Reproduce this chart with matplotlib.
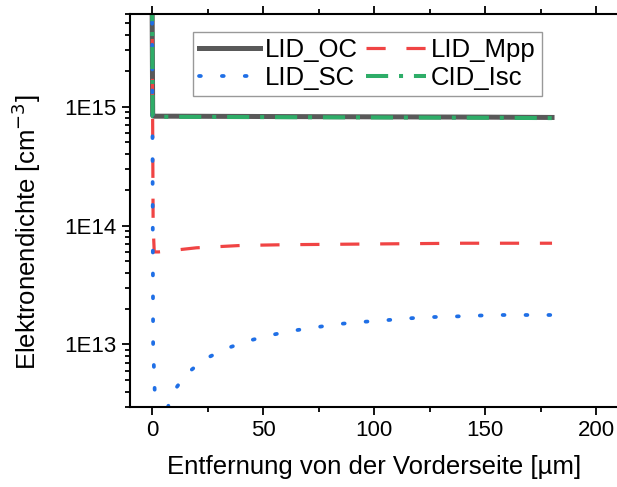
import math
import matplotlib as mpl
mpl.use('Agg')
import matplotlib.pyplot as plt
from matplotlib.ticker import LogLocator, MultipleLocator, FuncFormatter, NullFormatter

plt.rcParams['font.family'] = ['Liberation Sans', 'DejaVu Sans']

# data (x in um, y in cm^-3)
oc_x = [0, 0.3, 1, 10, 50, 100, 150, 180]
oc_y = [1e16, 8.4e14, 8.3e14, 8.3e14, 8.25e14, 8.2e14, 8.15e14, 8.1e14]

mpp_x = [0, 0.5, 1, 3, 10, 20, 40, 60, 100, 140, 180]
mpp_y = [1e16, 1e14, 6.0e13, 6.0e13, 6.2e13, 6.5e13, 6.8e13, 6.9e13, 7.0e13, 7.1e13, 7.1e13]

sc_x = [0, 0.5, 2, 5, 9.6, 15.2, 23.5, 33.4, 43.5, 53.4, 63.9, 74.2, 84.6, 94.9,
        105.3, 115.6, 126, 136.3, 146.7, 157, 180]
sc_y = [1e16, 1e13, 1.5e12, 2.3e12, 4.0e12, 5.6e12, 7.5e12, 9.25e12, 1.075e13, 1.2e13,
        1.31e13, 1.4e13, 1.49e13, 1.55e13, 1.6e13, 1.66e13, 1.7e13, 1.72e13, 1.75e13,
        1.77e13, 1.77e13]

cid_x = [0, 0.3, 1, 10, 50, 100, 150, 180]
cid_y = [1e16, 8.3e14, 8.2e14, 8.2e14, 8.15e14, 8.1e14, 8.05e14, 8.0e14]

fig = plt.figure(figsize=(6.17, 4.87), dpi=100)
W, H = 617, 487
ax = fig.add_axes([129.8 / W, (H - 406.7) / H, (618.7 - 129.8) / W, (406.7 - 14) / H])

l_oc, = ax.plot(oc_x, oc_y, color='#595959', lw=3.6, solid_joinstyle='round', label='LID_OC')
l_mpp, = ax.plot(mpp_x, mpp_y, color='#F04444', lw=2.3, linestyle=(0, (6, 6.5)), label='LID_Mpp')
l_sc, = ax.plot(sc_x, sc_y, color='#1F6FE6', lw=2.7, linestyle=(0, (0.5, 5.6)),
                dash_capstyle='round', label='LID_SC')
l_cid, = ax.plot(cid_x, cid_y, color='#2EAD68', lw=2.9, linestyle=(0, (5.5, 2.7, 1, 2.7)),
                 label='CID_Isc')

ax.set_yscale('log')
ax.set_xlim(-10, 210)
ax.set_ylim(3e12, 6e15)

ax.xaxis.set_major_locator(MultipleLocator(50))
ax.xaxis.set_minor_locator(MultipleLocator(25))
ax.yaxis.set_major_locator(LogLocator(base=10))
ax.yaxis.set_minor_locator(LogLocator(base=10, subs=range(2, 10)))
ax.yaxis.set_major_formatter(FuncFormatter(lambda v, p: '1E%d' % round(math.log10(v))))
ax.yaxis.set_minor_formatter(NullFormatter())

ax.spines['right'].set_visible(False)
for s in ['left', 'bottom', 'top']:
    ax.spines[s].set_linewidth(1.5)

ax.tick_params(which='both', direction='out', top=True, right=False, labelsize=16, width=1.3)
ax.tick_params(which='major', length=6)
ax.tick_params(which='minor', length=3.5)

ax.set_xlabel('Entfernung von der Vorderseite [µm]', fontsize=18.5, labelpad=10)
ax.set_ylabel('Elektronendichte [cm$^{-3}$]', fontsize=18.5)
ax.yaxis.set_label_coords(-0.178, 0.445)

# column-wise fill: OC, SC in column 1 and Mpp, CID in column 2
leg = ax.legend([l_oc, l_sc, l_mpp, l_cid], ['LID_OC', 'LID_SC', 'LID_Mpp', 'CID_Isc'],
                ncol=2, loc='upper left', bbox_to_anchor=(193 / W, 1 - 32 / H),
                bbox_transform=fig.transFigure, fontsize=18.5, handlelength=2.35,
                handletextpad=0.2, columnspacing=0.3, borderpad=0.25, labelspacing=0.12,
                fancybox=False, framealpha=1, borderaxespad=0)
leg.get_frame().set_edgecolor('#999999')
leg.get_frame().set_linewidth(1.0)

fig.savefig('out.png', dpi=100)
